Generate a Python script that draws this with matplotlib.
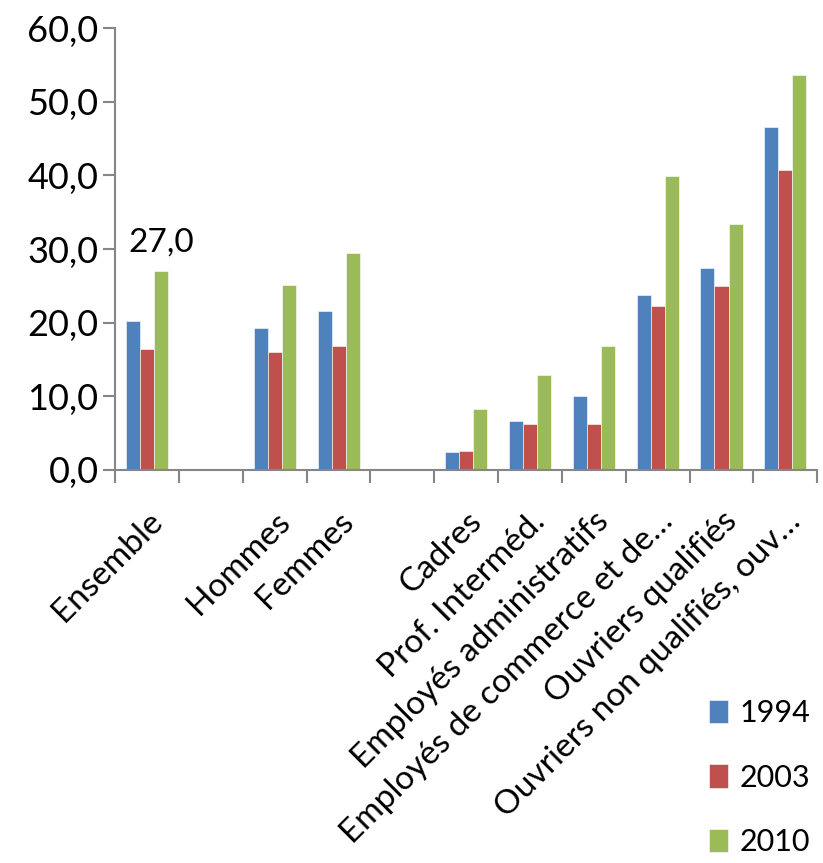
import numpy as np
import matplotlib
matplotlib.use("Agg")
from matplotlib import pyplot as plt
from matplotlib.ticker import FuncFormatter, FixedLocator

plt.rcParams['font.family'] = ['Lato', 'DejaVu Sans']

categories = ["Ensemble", "", "Hommes", "Femmes", "", "Cadres", "Prof. Interméd.",
              "Employés administratifs", "Employés de commerce et de…",
              "Ouvriers qualifiés", "Ouvriers non qualifiés, ouv…"]
years = ["1994", "2003", "2010"]
v1994 = [20.2, np.nan, 19.3, 21.6, np.nan, 2.4, 6.7, 10.1, 23.7, 27.4, 46.6]
v2003 = [16.4, np.nan, 16.0, 16.9, np.nan, 2.6, 6.2, 6.2, 22.3, 25.0, 40.7]
v2010 = [27.0, np.nan, 25.1, 29.4, np.nan, 8.3, 12.9, 16.8, 39.9, 33.4, 53.6]
colors = ["#4F81BD", "#C0504D", "#9BBB59"]

fig = plt.figure(figsize=(8.23, 8.63), dpi=100)
ax = fig.add_axes([0.140, 0.4554, 0.853, 0.512])

x = np.arange(len(categories))
w = 0.22
series = [v1994, v2003, v2010]
for i, (vals, col, yr) in enumerate(zip(series, colors, years)):
    ax.bar(x + (i - 1) * w, vals, width=w, color=col, label=yr,
           edgecolor="white", linewidth=0.4)

# data label on the Ensemble 2010 bar
ax.annotate("27,0", (x[0] + w, v2010[0]), xytext=(0, 10), textcoords="offset points",
            ha="center", va="bottom", fontsize=24)

ax.set_xlim(-0.5, len(categories) - 0.5)
ax.set_ylim(0, 60)
ax.set_yticks(np.arange(0, 61, 10))
ax.yaxis.set_major_formatter(FuncFormatter(lambda v, p: ("%.1f" % v).replace(".", ",")))

ax.set_xticks(x)
ax.set_xticklabels(categories, rotation=45, ha="right", rotation_mode="anchor", fontsize=24)
ax.xaxis.set_minor_locator(FixedLocator(np.arange(-0.5, len(categories), 1)))
ax.tick_params(axis="x", which="major", length=0, pad=26)
ax.tick_params(axis="x", which="minor", length=9, width=1.5, color="#868686")
ax.tick_params(axis="y", length=9, width=1.5, color="#868686", labelsize=26, pad=3)

for s in ["top", "right"]:
    ax.spines[s].set_visible(False)
for s in ["left", "bottom"]:
    ax.spines[s].set_color("#868686")
    ax.spines[s].set_linewidth(1.5)

fig.legend(loc="upper left", bbox_to_anchor=(0.862, 0.19), frameon=False, fontsize=22,
           handlelength=0.6, handleheight=0.8, handletextpad=0.4, labelspacing=1.2,
           borderaxespad=0, borderpad=0)

fig.savefig("out.png", dpi=100)
